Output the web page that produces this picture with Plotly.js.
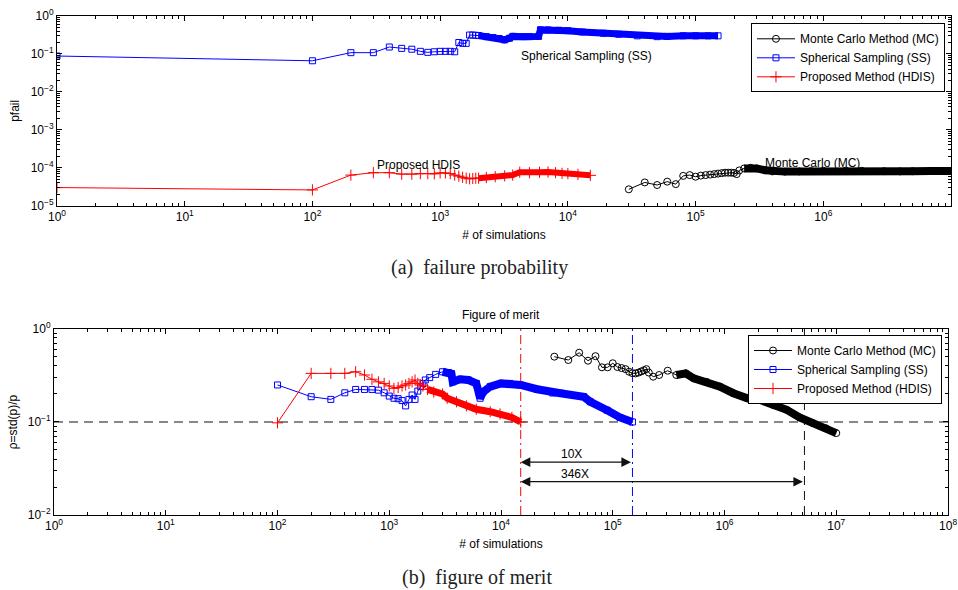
<!DOCTYPE html>
<html><head><meta charset="utf-8">
<script src="https://cdn.plot.ly/plotly-3.0.1.min.js"></script>
<style>html,body{margin:0;padding:0;background:#fff}#chart{width:958px;height:590px}</style>
</head><body><div id="chart"></div>
<script>
// ---------- (a) failure probability ----------
const ssPfN = [1,100,200,300,400,500,600,700,800,900,1000,1100,1200,1300,1400,1500,1600,1700,1800,1900,2000,2300,2600,2900,3200,3500,3700,4500,5000,5900,6100,7000,8500,10000,13000,19000,25000,35000,50000,60000,80000,100000,125000,150000];
const ssPf  = [0.088,0.066,0.108,0.108,0.152,0.14,0.133,0.117,0.11,0.114,0.117,0.117,0.117,0.114,0.2,0.19,0.19,0.315,0.315,0.31,0.305,0.285,0.27,0.255,0.235,0.26,0.29,0.285,0.285,0.29,0.43,0.43,0.42,0.41,0.38,0.35,0.33,0.30,0.285,0.29,0.30,0.30,0.30,0.30];

const hdisPfN = [1,100,200,300,400,500,600,700,800,900,1000,1100,1200,1300,1400,1500,1600,1700,1800,1900,2000,2300,2700,3200,3700,4200,5000,6000,7000,8000,9000,10000,12000,15000];
const hdisPf  = [3.0e-5,2.6e-5,6.4e-5,7.4e-5,7.4e-5,6.8e-5,6.8e-5,7.0e-5,7.0e-5,6.9e-5,7.3e-5,7.3e-5,7.0e-5,6.4e-5,6.0e-5,5.6e-5,5.3e-5,5.1e-5,5.2e-5,5.3e-5,5.3e-5,5.5e-5,5.8e-5,6.1e-5,6.4e-5,7.6e-5,7.4e-5,7.6e-5,7.7e-5,7.4e-5,7.1e-5,7.0e-5,6.7e-5,6.3e-5];

const mcPfN = [30000,40000,50000,60000,70000,80000,90000,100000,110000,120000,130000,140000,150000,160000,170000,180000,190000,200000,210000,220000,240000,270000,300000,350000,400000,500000,650000,800000,1000000,1500000,2000000,3000000,4000000,5000000,7000000,10000000];
const mcPf  = [2.7e-5,4.1e-5,3.5e-5,4.3e-5,3.7e-5,6.1e-5,6.4e-5,5.8e-5,6.2e-5,6.4e-5,6.6e-5,6.8e-5,7.0e-5,7.2e-5,7.4e-5,7.4e-5,7.4e-5,7.3e-5,6.8e-5,8.5e-5,9.6e-5,1.0e-4,9.6e-5,8.6e-5,8.0e-5,7.9e-5,8.0e-5,8.1e-5,8.3e-5,8.4e-5,8.3e-5,8.1e-5,8.0e-5,8.1e-5,8.2e-5,8.2e-5];

// ---------- (b) figure of merit ----------
const ssRhoN = [100,200,300,400,500,600,700,800,900,1000,1100,1200,1300,1400,1500,1600,1700,1800,1900,2000,2100,2300,2600,3000,3400,3600,3700,4300,5100,6000,6300,6500,6900,8000,10000,12000,15000,21000,29000,34000,55000,63000,89000,116000,150000];
const ssRho  = [0.25,0.187,0.175,0.206,0.224,0.224,0.224,0.22,0.206,0.19,0.18,0.178,0.17,0.149,0.175,0.195,0.175,0.215,0.24,0.26,0.283,0.30,0.325,0.347,0.34,0.33,0.27,0.288,0.283,0.26,0.21,0.18,0.21,0.24,0.26,0.26,0.25,0.225,0.205,0.204,0.187,0.165,0.134,0.112,0.10];

const hdisRhoN = [100,200,300,400,500,600,700,800,900,1000,1100,1200,1300,1400,1500,1600,1700,1800,1900,2000,2200,2500,3000,3300,4000,4900,6000,8000,9800,12500,15000];
const hdisRho  = [0.098,0.333,0.333,0.333,0.347,0.32,0.288,0.27,0.26,0.244,0.23,0.235,0.244,0.25,0.26,0.27,0.283,0.26,0.25,0.244,0.224,0.21,0.20,0.18,0.165,0.149,0.137,0.129,0.122,0.112,0.10];

const mcRhoN = [30000,40000,50000,60000,70000,80000,90000,100000,110000,120000,130000,140000,150000,160000,170000,180000,190000,200000,210000,230000,260000,310000,370000,450000,530000,690000,910000,1200000,1600000,2100000,2750000,3600000,4700000,6200000,8100000,10000000];
const mcRho  = [0.504,0.464,0.556,0.456,0.51,0.387,0.387,0.428,0.39,0.38,0.37,0.347,0.335,0.333,0.34,0.35,0.36,0.37,0.34,0.307,0.32,0.356,0.32,0.333,0.295,0.27,0.24,0.204,0.18,0.172,0.152,0.135,0.112,0.097,0.0855,0.076];

const targetRho = 0.1;
const hdisReachN = 15000, ssReachN = 150000, mcReachN = 5190000;
const speedupLabels = ['10X', '346X'];

const topXTicks = [1,10,100,1e3,1e4,1e5,1e6,1e7];
const topXText  = ['10<sup>0</sup>','10<sup>1</sup>','10<sup>2</sup>','10<sup>3</sup>','10<sup>4</sup>','10<sup>5</sup>','10<sup>6</sup>','10<sup>7</sup>'];
const topYTicks = [1e-5,1e-4,1e-3,1e-2,1e-1,1];
const topYText  = ['10<sup>−5</sup>','10<sup>−4</sup>','10<sup>−3</sup>','10<sup>−2</sup>','10<sup>−1</sup>','10<sup>0</sup>'];
const botXTicks = [1,10,100,1e3,1e4,1e5,1e6,1e7,1e8];
const botXText  = ['10<sup>0</sup>','10<sup>1</sup>','10<sup>2</sup>','10<sup>3</sup>','10<sup>4</sup>','10<sup>5</sup>','10<sup>6</sup>','10<sup>7</sup>','10<sup>8</sup>'];
const botYTicks = [1e-2,1e-1,1];
const botYText  = ['10<sup>−2</sup>','10<sup>−1</sup>','10<sup>0</sup>'];

// ---------- helpers ----------
function minorLog(lo, hi) { const v = []; for (let k = lo; k < hi; k++) for (let m = 2; m <= 9; m++) v.push(m * Math.pow(10, k)); return v; }
function fromN(xs, ys, n) { const i = xs.findIndex(v => v >= n); return [xs.slice(i), ys.slice(i)]; }

const BLUE = '#0000ff', RED = '#ff0000', BLACK = '#000000';
const FONT = 'Liberation Sans, Arial, Helvetica, sans-serif';

function series(x, y, color, symbol, size, name, xa, ya, legend, show) {
  return { x, y, name, type: 'scatter', mode: 'lines+markers', xaxis: xa, yaxis: ya, legend, showlegend: show,
    line: { color, width: 1 },
    marker: { symbol, size, color, line: { color, width: 1 } }, hoverinfo: 'x+y' };
}
function band(xy, color, w, xa, ya) {
  return { x: xy[0], y: xy[1], type: 'scatter', mode: 'lines', xaxis: xa, yaxis: ya, showlegend: false,
    line: { color, width: w }, hoverinfo: 'skip' };
}
function ref(x, y, color, dash, xa, ya) {
  return { x, y, type: 'scatter', mode: 'lines', xaxis: xa, yaxis: ya, showlegend: false,
    line: { color, width: 1, dash }, hoverinfo: 'skip' };
}

const DASH = '9px,6px', DASHDOT = '9px,4px,2px,4px';

const traces = [
  // top
  band(fromN(ssPfN, ssPf, 2000), BLUE, 7, 'x', 'y'),
  band(fromN(hdisPfN, hdisPf, 2000), RED, 6, 'x', 'y'),
  band(fromN(mcPfN, mcPf, 240000), BLACK, 8, 'x', 'y'),
  series(mcPfN, mcPf, BLACK, 'circle-open', 7, 'Monte Carlo Method (MC)', 'x', 'y', 'legend', true),
  series(ssPfN, ssPf, BLUE, 'square-open', 6, 'Spherical Sampling (SS)', 'x', 'y', 'legend', true),
  series(hdisPfN, hdisPf, RED, 'cross-thin-open', 8, 'Proposed Method (HDIS)', 'x', 'y', 'legend', true),
  // bottom reference lines
  ref([1, 1e8], [targetRho, targetRho], '#111', DASH, 'x2', 'y2'),
  ref([hdisReachN, hdisReachN], [0.01, 1], RED, DASHDOT, 'x2', 'y2'),
  ref([ssReachN, ssReachN], [0.01, 1], BLUE, DASHDOT, 'x2', 'y2'),
  ref([mcReachN, mcReachN], [0.01, 1], '#111', DASH, 'x2', 'y2'),
  // bottom
  band(fromN(ssRhoN, ssRho, 3000), BLUE, 8, 'x2', 'y2'),
  band(fromN(hdisRhoN, hdisRho, 2200), RED, 7, 'x2', 'y2'),
  band(fromN(mcRhoN, mcRho, 370000), BLACK, 8, 'x2', 'y2'),
  series(mcRhoN, mcRho, BLACK, 'circle-open', 7, 'Monte Carlo Method (MC)', 'x2', 'y2', 'legend2', true),
  series(ssRhoN, ssRho, BLUE, 'square-open', 6, 'Spherical Sampling (SS)', 'x2', 'y2', 'legend2', true),
  series(hdisRhoN, hdisRho, RED, 'cross-thin-open', 8, 'Proposed Method (HDIS)', 'x2', 'y2', 'legend2', true)
];

function logAxis(domain, anchor, range, tv, tt, minorVals, title, standoff) {
  return { domain, anchor, type: 'log', range, tickmode: 'array', tickvals: tv, ticktext: tt,
    ticks: 'inside', ticklen: 5, tickwidth: 1, tickcolor: '#000', showline: true, linecolor: '#000', linewidth: 1,
    mirror: 'allticks', showgrid: false, zeroline: false, automargin: false,
    tickfont: { family: FONT, size: 12, color: '#000' },
    minor: { tickmode: 'array', tickvals: minorVals, ticks: 'inside', ticklen: 3, tickcolor: '#000', showgrid: false },
    title: { text: title, font: { family: FONT, size: 12, color: '#000' }, standoff } };
}

const legendStyle = { font: { family: FONT, size: 12, color: '#000' }, bgcolor: '#fff', bordercolor: '#000', borderwidth: 1,
  xanchor: 'right', yanchor: 'top', itemwidth: 38, tracegroupgap: 0 };

const xl2 = v => Math.log10(v);

const layout = {
  width: 958, height: 590, margin: { l: 0, r: 0, t: 0, b: 0 }, paper_bgcolor: '#fff', plot_bgcolor: '#fff',
  showlegend: true, hovermode: 'closest',
  title: { text: 'Figure of merit', font: { family: FONT, size: 12, color: '#000' }, x: 0.5225, xanchor: 'center', y: 0.466, yanchor: 'middle' },
  xaxis: logAxis([0.0595, 0.9927], 'y', [0, 7], topXTicks, topXText, minorLog(0, 7), '# of simulations', 7),
  yaxis: logAxis([0.6514, 0.9729], 'x', [-5, 0], topYTicks, topYText, minorLog(-5, 0), 'pfail', 8),
  xaxis2: logAxis([0.0564, 0.9896], 'y2', [0, 8], botXTicks, botXText, minorLog(0, 8), '# of simulations', 7),
  yaxis2: logAxis([0.1271, 0.4424], 'x2', [-2, 0], botYTicks, botYText, minorLog(-2, 0), 'ρ=std(p)/p', 7),
  legend: Object.assign({ x: 0.9864, y: 0.9605 }, legendStyle),
  legend2: Object.assign({ x: 0.9833, y: 0.4322 }, legendStyle),
  annotations: [
    { xref: 'x', yref: 'y', x: xl2(14100), y: xl2(0.088), text: 'Spherical Sampling (SS)', showarrow: false, font: { family: FONT, size: 12, color: '#000' } },
    { xref: 'x', yref: 'y', x: xl2(671), y: xl2(1.15e-4), text: 'Proposed HDIS', showarrow: false, font: { family: FONT, size: 12, color: '#000' } },
    { xref: 'x', yref: 'y', x: xl2(8.3e5), y: xl2(1.3e-4), text: 'Monte Carlo (MC)', showarrow: false, font: { family: FONT, size: 12, color: '#000' } },
    { xref: 'x2', yref: 'y2', x: xl2(hdisReachN), y: xl2(0.037), ax: xl2(ssReachN), ay: xl2(0.037), axref: 'x2', ayref: 'y2',
      text: '', showarrow: true, arrowside: 'end+start', arrowhead: 2, arrowsize: 1.6, arrowwidth: 1.2, arrowcolor: '#111' },
    { xref: 'x2', yref: 'y2', x: xl2(hdisReachN), y: xl2(0.0228), ax: xl2(mcReachN), ay: xl2(0.0228), axref: 'x2', ayref: 'y2',
      text: '', showarrow: true, arrowside: 'end+start', arrowhead: 2, arrowsize: 1.6, arrowwidth: 1.2, arrowcolor: '#111' },
    { xref: 'x2', yref: 'y2', x: 4.633, y: -1.347, text: speedupLabels[0], showarrow: false, font: { family: FONT, size: 12, color: '#000' } },
    { xref: 'x2', yref: 'y2', x: 4.662, y: -1.562, text: speedupLabels[1], showarrow: false, font: { family: FONT, size: 12, color: '#000' } },
    { xref: 'paper', yref: 'paper', x: 0.5, y: 1 - 268 / 590, yanchor: 'middle', text: '(a)\u00a0 failure probability', showarrow: false,
      font: { family: 'Liberation Serif, Times New Roman, serif', size: 20, color: '#222' } },
    { xref: 'paper', yref: 'paper', x: 0.498, y: 1 - 577 / 590, yanchor: 'middle', text: '(b)\u00a0 figure of merit', showarrow: false,
      font: { family: 'Liberation Serif, Times New Roman, serif', size: 20, color: '#222' } }
  ]
};

Plotly.newPlot('chart', traces, layout, { staticPlot: true, displayModeBar: false });
</script></body></html>
